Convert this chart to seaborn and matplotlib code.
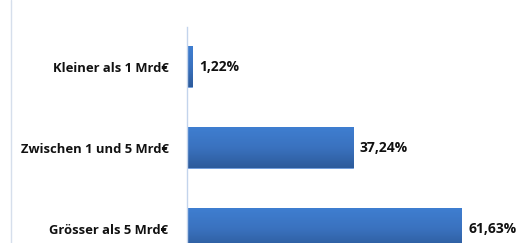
import numpy as np
import pandas as pd
import matplotlib
matplotlib.use("Agg")
import matplotlib.pyplot as plt
import seaborn as sns
from matplotlib.colors import LinearSegmentedColormap
from matplotlib.lines import Line2D

# data

categories = ["Kleiner als 1 Mrd€", "Zwischen 1 und 5 Mrd€", "Grösser als 5 Mrd€"]
shares = [1.22, 37.24, 61.63]
value_labels = ["1,22%", "37,24%", "61,63%"]

df = pd.DataFrame({"kategorie": categories, "anteil": shares})

sns.set_style("white")
plt.rcParams['font.family'] = ['Open Sans', 'DejaVu Sans']

fig = plt.figure(figsize=(5.18, 2.43), dpi=100)
ax = fig.add_axes([186.5 / 518, 0, 1 - 186.5 / 518, 1 - 27 / 243])

sns.barplot(data=df, x="anteil", y="kategorie", orient="h", color="#3a70bb",
            width=0.5, edgecolor="#6a9ade", linewidth=0.6, ax=ax)

# blue gradient inside each bar
cmap = LinearSegmentedColormap.from_list("bar", ["#3f7ed0", "#3a72bf", "#2d5b9b"])
grad = np.linspace(0, 1, 64).reshape(-1, 1)
for patch in ax.patches:
    x0, y0 = patch.get_x(), patch.get_y()
    w, h = patch.get_width(), patch.get_height()
    im = ax.imshow(grad, extent=[x0, x0 + w, y0 + h, y0], cmap=cmap,
                   aspect="auto", origin="upper", zorder=patch.get_zorder() + 0.1)
    im.set_clip_path(patch)

ax.set_xlim(0, 74.3)
ax.set_ylim(2.179, -0.488)

ax.bar_label(ax.containers[0], labels=value_labels, padding=5,
             fontweight="bold", fontsize=10, color="#111111")

ax.set_xticks([])
ax.set_xlabel("")
ax.set_ylabel("")
ax.tick_params(axis="y", length=0, pad=13)
for lab in ax.get_yticklabels():
    lab.set_fontweight("bold")
    lab.set_fontsize(9.4)
    lab.set_color("#111111")

for s in ["top", "right", "bottom"]:
    ax.spines[s].set_visible(False)
ax.spines["left"].set_color("#c3d4ec")
ax.spines["left"].set_linewidth(1)

# chart area border on the left
fig.add_artist(Line2D([11 / 518, 11 / 518], [0, 1], color="#d6dfec", lw=1,
                      transform=fig.transFigure))

fig.savefig("out.png", dpi=100)
